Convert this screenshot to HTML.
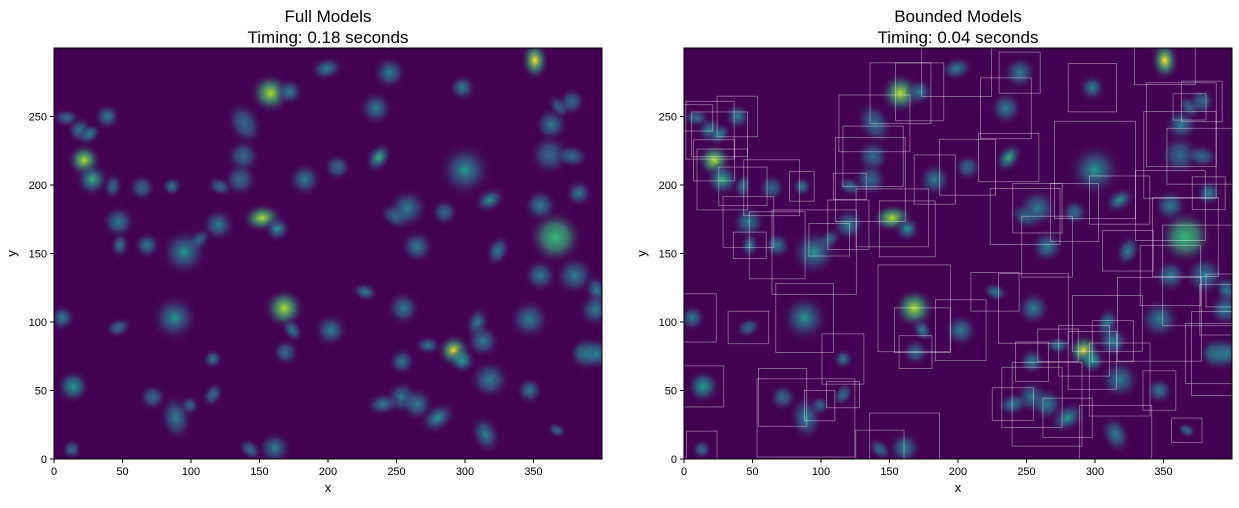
<!DOCTYPE html>
<html><head><meta charset="utf-8">
<style>
body{margin:0;background:#fff;font-family:"Liberation Sans",sans-serif;}
svg text{font-family:"Liberation Sans",sans-serif;fill:#000;}
</style></head>
<body>
<svg id="c" width="1239" height="503" xmlns="http://www.w3.org/2000/svg">
<defs id="defs"></defs>
</svg>
<script>
// blob data (data coordinates)
const bx=[9,39,19,26,22,28,43,64,86,139,138,136,121,158,172,199,245,235,237,207,183,351,298,363,369,378,362,378,383,300,318,355,366,324,355,380,396,395,285,249,258,265,152,163,120,106,95,68,48,47,168,174,169,202,227,255,88,47,6,116,116,99,72,89,14,13,143,161,254,273,254,265,280,292,298,309,313,318,315,347,347,367,388,396,240];
const by=[249,250,240,237,218,204,199,198,199,245,221,204,199,267,268,285,282,256,220,213,204,291,271,244,257,261,222,221,194,211,189,185,162,152,134,134,123,109,180,177,183,155,176,168,171,160,151,156,156,173,110,94,78,94,122,110,103,96,103,73,47,39,45,30,53,7,7,8,71,83,45,40,30,79,72,99,86,58,18,102,50,21,77,77,40];
const bs=[4,4,4,4,5,5,4,4,3,7,5,5,4,6,4,5,5,5,5,4,5,6,4,5,4,4,6,5,4,8,5,5,8,5,5,6,5,5,4,5,6,5,6,4,5,4,7,4,4,5,6,4,4,5,4,5,7,4,4,3,4,3,4,7,5,3,4,5,4,4,5,5,6,5,4,5,5,6,6,6,4,3,5,5,5];
const bamp=[.35,.4,.45,.4,.8,.6,.35,.35,.4,.35,.35,.35,.35,.9,.4,.4,.4,.45,.6,.35,.4,1,.45,.45,.35,.35,.35,.35,.45,.5,.5,.45,.75,.45,.45,.4,.4,.4,.35,.4,.45,.4,.8,.5,.4,.4,.5,.4,.45,.4,.8,.4,.35,.4,.45,.4,.5,.35,.4,.4,.35,.35,.35,.45,.55,.35,.35,.4,.45,.4,.4,.4,.5,.95,.55,.4,.4,.4,.45,.45,.4,.35,.55,.4,.4];
const xTicks=[0,50,100,150,200,250,300,350];
const yTicks=[0,50,100,150,200,250];
const panels=[{x0:54,title:"Full Models",timing:"Timing: 0.18 seconds",boxes:false},{x0:684,title:"Bounded Models",timing:"Timing: 0.04 seconds",boxes:true}];
const NS="http://www.w3.org/2000/svg";
const svg=document.getElementById('c'),defs=document.getElementById('defs');
const W=548,H=411,Y0=48;
function color(a){ if(a>.9)return"#fde725"; if(a>.75)return"#b5de2b"; if(a>.55)return"#35b779"; if(a>.45)return"#1f9e89"; if(a>.38)return"#26828e"; return"#31688e";}
function mk(tag,attrs,parent){const e=document.createElementNS(NS,tag);for(const k in attrs)e.setAttribute(k,attrs[k]);(parent||svg).appendChild(e);return e;}
bamp.forEach((a,i)=>{const g=mk('radialGradient',{id:'g'+i},defs);
mk('stop',{offset:'0','stop-color':color(a),'stop-opacity':'1'},g);
mk('stop',{offset:'0.45','stop-color':color(a*0.75),'stop-opacity':'0.6'},g);
mk('stop',{offset:'1','stop-color':'#440154','stop-opacity':'0'},g);});
panels.forEach((p,pi)=>{
 const sx=v=>p.x0+v/400*W, sy=v=>Y0+H-v/300*H;
 mk('clipPath',{id:'cp'+pi},defs).appendChild(Object.assign(document.createElementNS(NS,'rect'),{}));
 const cr=defs.lastChild.firstChild;cr.setAttribute('x',p.x0);cr.setAttribute('y',Y0);cr.setAttribute('width',W);cr.setAttribute('height',H);
 const bg=mk('rect',{x:p.x0,y:Y0,width:W,height:H,fill:'#440154'});
 
 
 const grp=mk('g',{'clip-path':'url(#cp'+pi+')'});
 
 
 bx.forEach((x,i)=>{const r=bs[i]*2.6*W/400;
  const e=mk('ellipse',{cx:sx(x),cy:sy(by[i]),rx:r,ry:r*(i%3==0?0.7:1),fill:'url(#g'+i+')',transform:'rotate('+((i*47)%180)+' '+sx(x)+' '+sy(by[i])+')'},grp);
  
  
 });
 if(p.boxes){bx.forEach((x,i)=>{const h=bs[i]*(3+(i%4)*0.7);
  const b=mk('rect',{x:sx(x-h),y:sy(by[i]+h*(0.8+(i%3)*0.2)),width:2*h*W/400,height:h*(1.6+(i%3)*0.4)*H/300,fill:'none',stroke:'#ffffff','stroke-opacity':'0.45','stroke-width':'0.8'},grp);
  
  });}
 const fr=mk('rect',{x:p.x0,y:Y0,width:W,height:H,fill:'none',stroke:'#000','stroke-width':'1'});
 
 
 xTicks.forEach(t=>{mk('line',{x1:sx(t),x2:sx(t),y1:Y0+H,y2:Y0+H+4,stroke:'#000'});
  const tx=mk('text',{x:sx(t),y:Y0+H+16,'font-size':'11','text-anchor':'middle'});tx.textContent=t;
  
  });
 yTicks.forEach(t=>{mk('line',{x1:p.x0-4,x2:p.x0,y1:sy(t),y2:sy(t),stroke:'#000'});
  const tx=mk('text',{x:p.x0-7,y:sy(t)+4,'font-size':'11','text-anchor':'end'});tx.textContent=t;
  
  });
 const xl=mk('text',{x:p.x0+W/2,y:492,'font-size':'13','text-anchor':'middle'});xl.textContent='x';
 
 
 const yl=mk('text',{x:0,y:0,'font-size':'13','text-anchor':'middle',transform:'translate('+(p.x0-38)+' '+(Y0+H/2)+') rotate(-90)'});yl.textContent='y';
 
 
 const t1=mk('text',{x:p.x0+W/2,y:22,'font-size':'17','text-anchor':'middle'});t1.textContent=p.title;
 
 
 const t2=mk('text',{x:p.x0+W/2,y:43,'font-size':'17','text-anchor':'middle'});t2.textContent=p.timing;
 
 
});
</script>
</body></html>
